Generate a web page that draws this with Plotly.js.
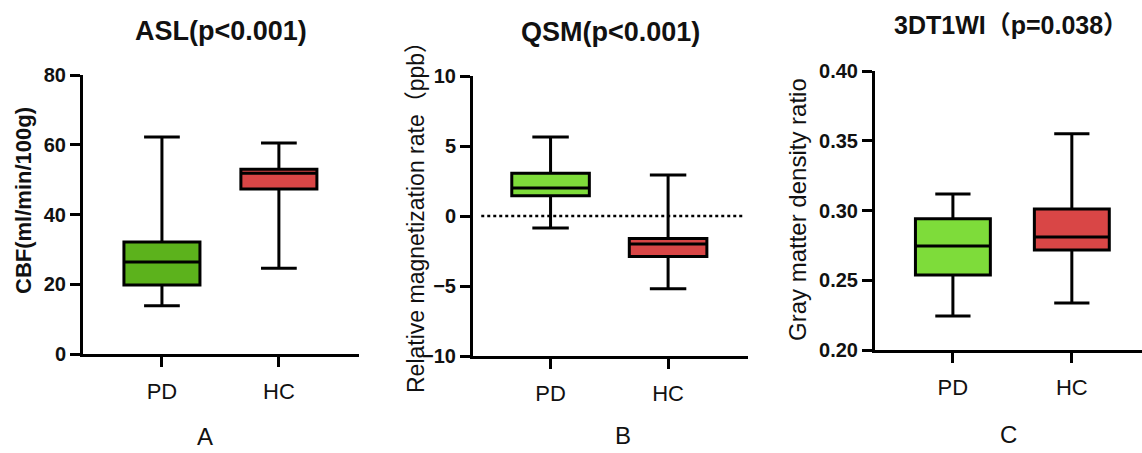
<!DOCTYPE html>
<html>
<head>
<meta charset="utf-8">
<script src="https://cdn.plot.ly/plotly-3.0.1.min.js"></script>
<style>html,body{margin:0;padding:0;background:#fff;}#chart{width:1142px;height:453px;}</style>
</head>
<body>
<div id="chart"></div>
<script>
// ---- data ----
var groups = ['PD', 'HC'];

// Panel A: ASL, CBF (ml/min/100g)
var aslLow  = [13.8, 24.6];
var aslQ1   = [19.8, 47.3];
var aslMed  = [26.4, 51.8];
var aslQ3   = [32.1, 53.0];
var aslHigh = [62.2, 60.5];

// Panel B: QSM, relative magnetization rate (ppb)
var qsmLow  = [-0.85, -5.2];
var qsmQ1   = [1.45, -2.9];
var qsmMed  = [2.0, -2.0];
var qsmQ3   = [3.05, -1.6];
var qsmHigh = [5.65, 2.93];

// Panel C: 3DT1WI, gray matter density ratio
var gmLow  = [0.2244, 0.2337];
var gmQ1   = [0.2538, 0.2717];
var gmMed  = [0.2746, 0.2810];
var gmQ3   = [0.2940, 0.3010];
var gmHigh = [0.3118, 0.3550];

var titles = ['ASL(p<0.001)', 'QSM(p<0.001)', '3DT1WI（p=0.038）'];
var yTitles = ['CBF(ml/min/100g)', 'Relative magnetization rate（ppb）', 'Gray matter density ratio'];
var panelLetters = ['A', 'B', 'C'];

// ---- styles ----
var FONT = 'Liberation Sans, Arial, Noto Sans CJK SC, sans-serif';
var greenA = '#5cb21c';
var greenBC = '#7edc3a';
var red = '#d94646';

function boxTraces(low, q1, med, q3, high, xa, ya, colors, width) {
  return groups.map(function (g, i) {
    return {
      type: 'box',
      x: [g],
      lowerfence: [low[i]],
      q1: [q1[i]],
      median: [med[i]],
      q3: [q3[i]],
      upperfence: [high[i]],
      xaxis: xa, yaxis: ya,
      fillcolor: colors[i],
      line: {color: '#000', width: 3},
      whiskerwidth: 0.47,
      width: width,
      boxpoints: false,
      showlegend: false,
      hoverinfo: 'skip'
    };
  });
}

var data = []
  .concat(boxTraces(aslLow, aslQ1, aslMed, aslQ3, aslHigh, 'x', 'y', [greenA, red], 0.65))
  .concat(boxTraces(qsmLow, qsmQ1, qsmMed, qsmQ3, qsmHigh, 'x2', 'y2', [greenBC, red], 0.66))
  .concat(boxTraces(gmLow, gmQ1, gmMed, gmQ3, gmHigh, 'x3', 'y3', [greenBC, red], 0.63));

function xAxis(domain, range, anchor) {
  return {
    domain: domain, range: range, type: 'category', anchor: anchor,
    showline: true, linewidth: 3, linecolor: '#000',
    ticks: 'outside', ticklen: 10, tickwidth: 3, tickcolor: '#000',
    ticklabelstandoff: 6,
    tickfont: {family: FONT, size: 22, color: '#111'},
    showgrid: false, zeroline: false, fixedrange: true
  };
}
function yAxis(domain, range, dtick, fmt, anchor) {
  return {
    domain: domain, range: range, dtick: dtick, tick0: range[0], anchor: anchor,
    tickformat: fmt,
    showline: true, linewidth: 3, linecolor: '#000',
    ticks: 'outside', ticklen: 10, tickwidth: 3, tickcolor: '#000',
    tickfont: {family: FONT, size: 20, color: '#111', weight: 'bold'},
    showgrid: false, zeroline: false, fixedrange: true
  };
}

var W = 1142, H = 453;
function px(x) { return x / W; }
function py(y) { return 1 - y / H; }

var annotations = [
  {text: titles[0], x: px(221), y: py(31), font: {family: FONT, size: 27, color: '#111', weight: 'bold'}},
  {text: titles[1], x: px(610), y: py(32), font: {family: FONT, size: 27, color: '#111', weight: 'bold'}},
  {text: titles[2], x: px(1011), y: py(25), font: {family: FONT, size: 25, color: '#111', weight: 'bold'}},
  {text: yTitles[0], x: px(23), y: py(201), textangle: -90, font: {family: FONT, size: 22, color: '#111', weight: 'bold'}},
  {text: yTitles[1], x: px(416), y: py(212), textangle: -90, font: {family: FONT, size: 23, color: '#111'}},
  {text: yTitles[2], x: px(798), y: py(210), textangle: -90, font: {family: FONT, size: 24, color: '#111'}},
  {text: panelLetters[0], x: px(205), y: py(436), font: {family: FONT, size: 24, color: '#111'}},
  {text: panelLetters[1], x: px(623), y: py(435), font: {family: FONT, size: 24, color: '#111'}},
  {text: panelLetters[2], x: px(1008), y: py(434), font: {family: FONT, size: 24, color: '#111'}}
].map(function (a) {
  a.xref = 'paper'; a.yref = 'paper'; a.showarrow = false;
  a.xanchor = 'center'; a.yanchor = 'middle';
  return a;
});

var layout = {
  width: W, height: H,
  margin: {l: 0, r: 0, t: 0, b: 0},
  paper_bgcolor: '#fff', plot_bgcolor: '#fff',
  boxmode: 'overlay',
  xaxis:  xAxis([px(83), px(359)], [-0.675, 1.685], 'y'),
  yaxis:  yAxis([py(354), py(75)], [0, 80], 20, 'd', 'x'),
  xaxis2: xAxis([px(473), px(748)], [-0.66, 1.68], 'y2'),
  yaxis2: yAxis([py(356), py(76)], [-10, 10], 5, 'd', 'x2'),
  xaxis3: xAxis([px(875), px(1142)], [-0.655, 1.59], 'y3'),
  yaxis3: yAxis([py(350), py(71)], [0.2, 0.4], 0.05, '.2f', 'x3'),
  shapes: [{
    type: 'line', xref: 'x2 domain', yref: 'y2',
    x0: 0.03, x1: 0.99, y0: 0, y1: 0,
    line: {color: '#000', width: 2.5, dash: 'dot'}
  }],
  annotations: annotations
};

Plotly.newPlot('chart', data, layout, {displayModeBar: false, staticPlot: true});
</script>
</body>
</html>
